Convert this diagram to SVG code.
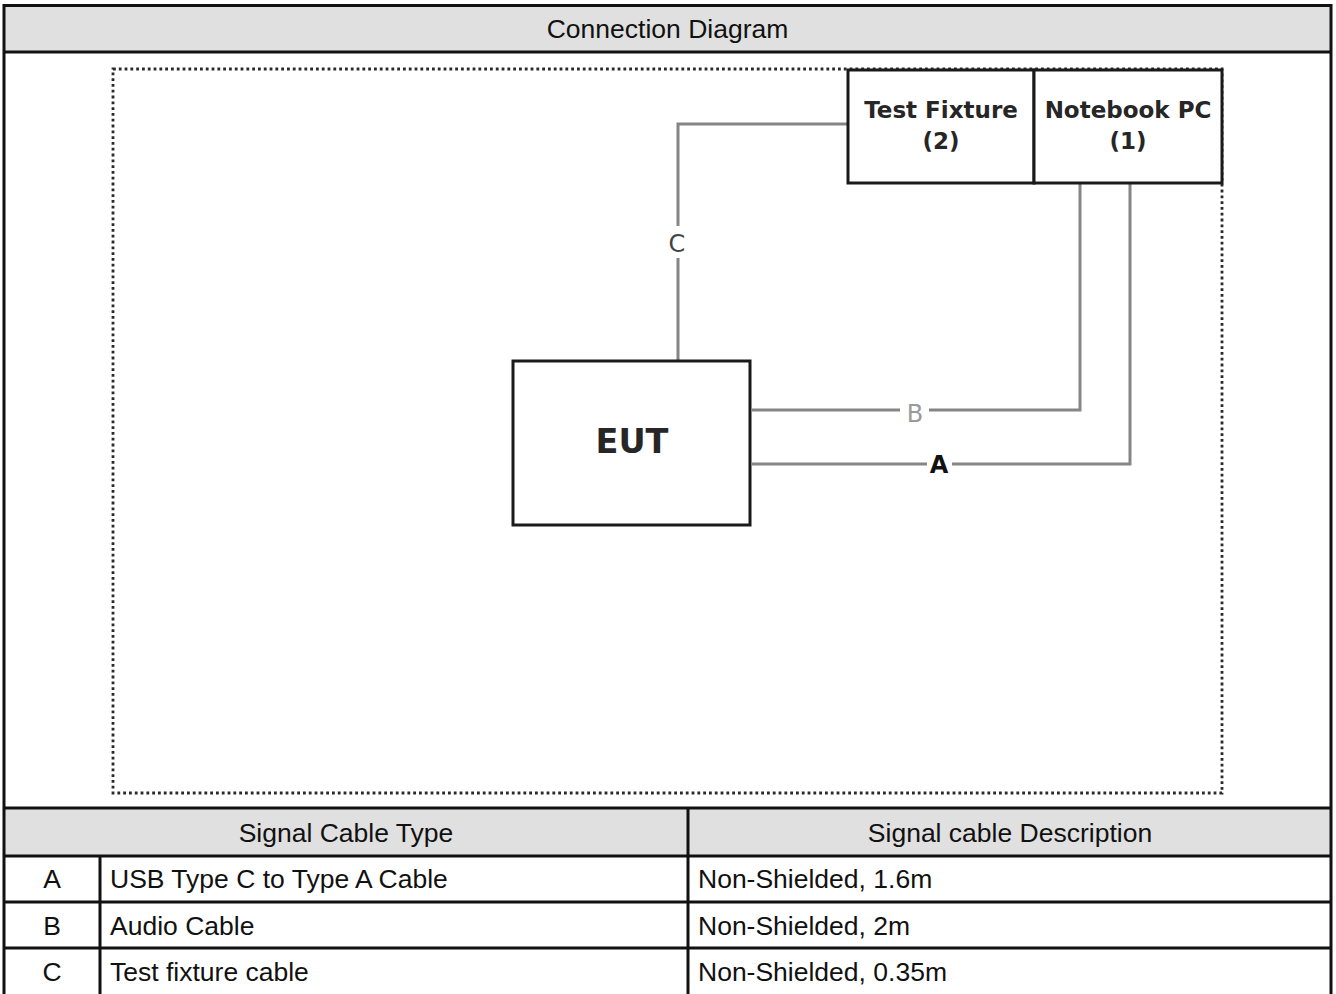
<svg xmlns="http://www.w3.org/2000/svg" width="1336" height="994" viewBox="0 0 1336 994">
<style>
.tbl{font-family:"Liberation Sans",Arial,sans-serif;font-size:26.5px;fill:#111}
.mid{text-anchor:middle}
.grid{stroke:#111;stroke-width:3;fill:none}
.hdr{fill:#e0e0e0}
.box{fill:#fff;stroke:#1a1a1a;stroke-width:3}
.lbl{font-family:"DejaVu Sans","Liberation Sans",sans-serif;font-weight:bold;fill:#262626;text-anchor:middle}
.wire{fill:none;stroke:#858585;stroke-width:3}
.wl{font-family:"DejaVu Sans","Liberation Sans",sans-serif;font-size:24px;text-anchor:middle}
.dots{fill:none;stroke:#2a2a2a;stroke-width:2.8;stroke-dasharray:2.8 3}
</style>
<rect width="1336" height="994" fill="#fff"/>
<g id="table">
<rect class="hdr" x="4" y="5" width="1327" height="47"/>
<rect class="hdr" x="4" y="808" width="1327" height="48"/>
<path class="grid" d="M4,994 V5.5 H1331 V994 M4,52 H1331 M4,808 H1331 M4,856 H1331 M4,902 H1331 M4,948 H1331 M688,808 V994 M100,856 V994"/>
<text class="tbl mid" x="667.5" y="38">Connection Diagram</text>
<text class="tbl mid" x="346" y="841.5">Signal Cable Type</text>
<text class="tbl mid" x="1010" y="841.5">Signal cable Description</text>
<text class="tbl mid" x="52" y="888">A</text>
<text class="tbl" x="110" y="888">USB Type C to Type A Cable</text>
<text class="tbl" x="698" y="888">Non-Shielded, 1.6m</text>
<text class="tbl mid" x="52" y="934.5">B</text>
<text class="tbl" x="110" y="934.5">Audio Cable</text>
<text class="tbl" x="698" y="934.5">Non-Shielded, 2m</text>
<text class="tbl mid" x="52" y="981">C</text>
<text class="tbl" x="110" y="981">Test fixture cable</text>
<text class="tbl" x="698" y="981">Non-Shielded, 0.35m</text>
</g>
<g id="boundary">
<rect class="dots" x="113" y="69" width="1109" height="724"/>
</g>
<g id="connectors">
<path class="wire" d="M848,124 H678 V226 M678,258 V361"/>
<path class="wire" d="M752,410 H900 M929,410 H1080 V183"/>
<path class="wire" d="M752,464 H927 M952,464 H1130 V183"/>
<text class="wl" x="677" y="252" fill="#444">C</text>
<text class="wl" x="915" y="422" fill="#9a9a9a">B</text>
<text class="wl" x="939" y="473" fill="#111" font-weight="bold">A</text>
</g>
<g id="node-test-fixture">
<rect class="box" x="848" y="70" width="186" height="113"/>
<text class="lbl" x="941" y="118" font-size="23">Test Fixture</text>
<text class="lbl" x="941" y="149" font-size="23">(2)</text>
</g>
<g id="node-notebook-pc">
<rect class="box" x="1034" y="70" width="188" height="113"/>
<text class="lbl" x="1128" y="118" font-size="23">Notebook PC</text>
<text class="lbl" x="1128" y="149" font-size="23">(1)</text>
</g>
<g id="node-eut">
<rect class="box" x="513" y="361" width="237" height="164"/>
<text class="lbl" x="632" y="453" font-size="33.5">EUT</text>
</g>
</svg>
